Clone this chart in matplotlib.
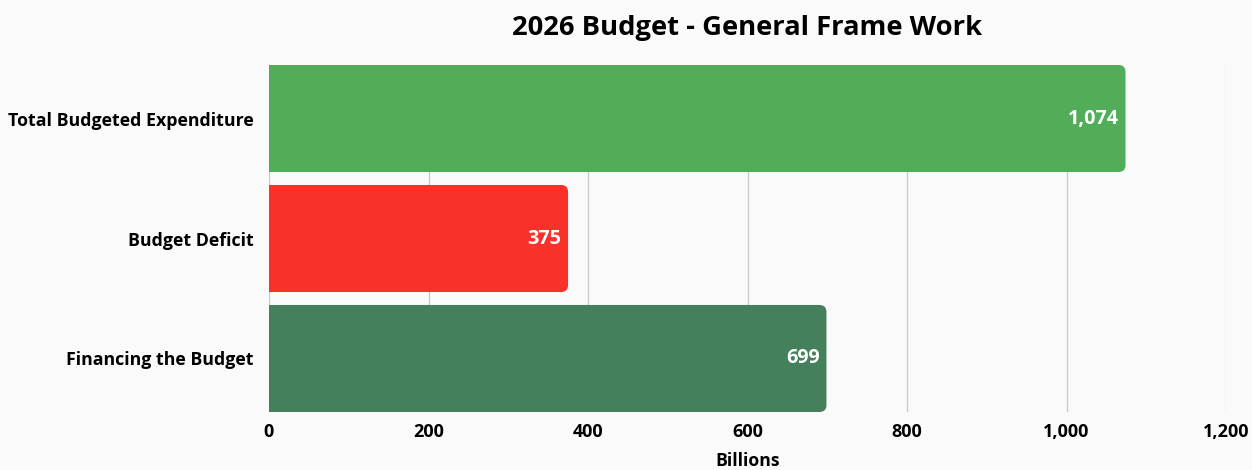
import matplotlib
matplotlib.use("Agg")
import matplotlib.pyplot as plt
from matplotlib.patches import FancyBboxPatch, Rectangle

categories = ["Total Budgeted Expenditure", "Budget Deficit", "Financing the Budget"]
values = [1074, 375, 699]
colors = ["#51AD58", "#F8322A", "#44805C"]
xticks = [0, 200, 400, 600, 800, 1000, 1200]
title = "2026 Budget - General Frame Work"
xlabel = "Billions"

plt.rcParams['font.family'] = ['Open Sans', 'DejaVu Sans']

fig = plt.figure(figsize=(12.52, 4.70), dpi=100, facecolor="#fafafa")
ax = fig.add_axes([269/1252, 1-412/470, (1226-269)/1252, (412-65)/470])
ax.set_facecolor("none")

h = 0.892
bars = ax.barh(range(len(categories)), values, height=h, color=colors, zorder=2)
ax.set_xlim(0, 1200)
ax.set_ylim(len(categories) - 1 + h/2, -h/2)

fig.canvas.draw()
# convert px radius to data units
r_px = 7
x0p = ax.transData.transform((0, 0))
x1p = ax.transData.transform((1, 1))
dx_per_px = 1 / abs(x1p[0] - x0p[0])
dy_per_px = 1 / abs(x1p[1] - x0p[1])
rx = r_px * dx_per_px
ry = r_px * dy_per_px

for b, c in zip(bars, colors):
    x, y, w, hh = b.get_x(), b.get_y(), b.get_width(), b.get_height()
    b.set_visible(False)
    p = FancyBboxPatch((x, y), w, hh,
                       boxstyle=f"round,pad=0,rounding_size={rx}",
                       mutation_aspect=ry/rx, facecolor=c, edgecolor="none", zorder=2)
    ax.add_patch(p)
    ax.add_patch(Rectangle((x, y), w/2, hh, facecolor=c, edgecolor="none", zorder=2))
    ax.text(x + w - 7*dx_per_px, y + hh/2, f"{w:,.0f}", ha="right", va="center",
            color="white", fontsize=14.2, fontweight="bold", zorder=3)

ax.set_yticks(range(len(categories)))
ax.set_yticklabels(categories, fontsize=12.8, fontweight="bold")
ax.set_xticks(xticks)
ax.set_xticklabels([f"{t:,}" for t in xticks], fontsize=13, fontweight="bold")
ax.tick_params(axis="both", length=0)
ax.tick_params(axis="y", pad=10.8)
ax.tick_params(axis="x", pad=8)
ax.grid(axis="x", color="#c8c8c8", linewidth=0.9, zorder=0)
ax.set_axisbelow(True)
for s in ax.spines.values():
    s.set_visible(False)

ax.set_xlabel(xlabel, fontsize=12.7, fontweight="bold", labelpad=7.5)
fig.text((269+1226)/2/1252, 1-28/470, title, ha="center", va="center",
         fontsize=19.7, fontweight="bold")

fig.savefig("out.png", dpi=100, facecolor=fig.get_facecolor())
